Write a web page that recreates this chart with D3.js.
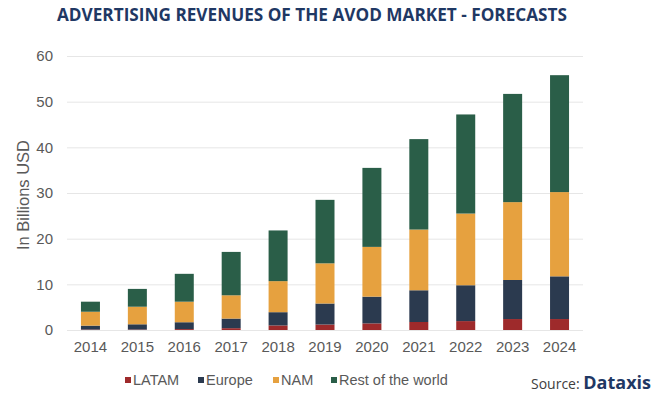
<!DOCTYPE html>
<html>
<head>
<meta charset="utf-8">
<script src="https://cdn.jsdelivr.net/npm/d3@7"></script>
<style>
  body { margin: 0; background: #fff; }
  text { font-family: "Liberation Sans", Arial, sans-serif; }
</style>
</head>
<body>
<div id="chart"></div>
<script>
// ---------------------------//
//            DATA            //
// ---------------------------//
const years = ["2014", "2015", "2016", "2017", "2018", "2019", "2020", "2021", "2022", "2023", "2024"];
const seriesNames = ["LATAM", "Europe", "NAM", "Rest of the world"];
const latam  = [0.1, 0.1, 0.2, 0.4, 1.0, 1.2, 1.45, 1.75, 1.95, 2.4, 2.4];
const europe = [0.85, 1.15, 1.5, 2.1, 2.9, 4.6, 5.85, 6.95, 7.85, 8.55, 9.35];
const nam    = [3.05, 3.85, 4.5, 5.1, 6.8, 8.8, 10.9, 13.3, 15.7, 17.05, 18.45];
const rest   = [2.2, 3.9, 6.1, 9.5, 11.1, 13.9, 17.3, 19.8, 21.7, 23.7, 25.6];
const yTicks = [0, 10, 20, 30, 40, 50, 60];

const colors = ["#9E2A2B", "#2B3A4F", "#E6A13F", "#2A5E48"];

// ---------------------------//
//       SET  CANVAS          //
// ---------------------------//
const W = 659, H = 398;
const margin = {top: 56, right: 76, bottom: 68, left: 67};
const width = W - margin.left - margin.right,
      height = H - margin.top - margin.bottom;

const svg = d3.select("#chart")
    .append("svg")
    .attr("width", W)
    .attr("height", H);

const g = svg.append("g")
    .attr("transform", `translate(${margin.left},${margin.top})`);

// table for the stack
const table = years.map((y, i) => ({
    year: y,
    "LATAM": latam[i],
    "Europe": europe[i],
    "NAM": nam[i],
    "Rest of the world": rest[i]
}));
const stacked = d3.stack().keys(seriesNames)(table);

// ---------------------------//
//       AXIS  AND SCALE      //
// ---------------------------//
const x = d3.scaleBand()
    .domain(years)
    .range([0, width])
    .paddingInner(0.595)
    .paddingOuter(0.2975);

const y = d3.scaleLinear()
    .domain([0, 60])
    .range([height, 0]);

// gridlines
g.append("g")
    .selectAll("line")
    .data(yTicks)
    .join("line")
    .attr("x1", 0)
    .attr("x2", width)
    .attr("y1", d => y(d) + 0.5)
    .attr("y2", d => y(d) + 0.5)
    .attr("stroke", "#e6e6e6")
    .attr("stroke-width", 1);

// Y axis labels
g.append("g")
    .call(d3.axisLeft(y).tickValues(yTicks).tickSize(0).tickPadding(14))
    .call(a => a.select(".domain").remove())
    .selectAll("text")
    .style("font-size", "15px")
    .style("font-family", "'Liberation Sans', Arial, sans-serif")
    .attr("fill", "#595959");

// X axis labels
g.append("g")
    .attr("transform", `translate(0,${height})`)
    .call(d3.axisBottom(x).tickSize(0).tickPadding(11))
    .call(a => a.select(".domain").remove())
    .selectAll("text")
    .style("font-size", "15px")
    .style("font-family", "'Liberation Sans', Arial, sans-serif")
    .attr("fill", "#595959");

// Y axis title
svg.append("text")
    .attr("transform", `translate(29,${margin.top + 139}) rotate(-90)`)
    .attr("text-anchor", "middle")
    .style("font-size", "16.5px")
    .attr("fill", "#595959")
    .text("In Billions USD");

// ---------------------------//
//           BARS             //
// ---------------------------//
g.selectAll(".series")
    .data(stacked)
    .join("g")
    .attr("class", "series")
    .attr("fill", (d, i) => colors[i])
    .selectAll("rect")
    .data(d => d)
    .join("rect")
    .attr("x", d => x(d.data.year))
    .attr("y", d => y(d[1]))
    .attr("width", x.bandwidth())
    .attr("height", d => y(d[0]) - y(d[1]));

// ---------------------------//
//      TITLE AND LEGEND      //
// ---------------------------//
svg.append("text")
    .attr("x", 312)
    .attr("y", 21)
    .attr("text-anchor", "middle")
    .style("font-family", "'Open Sans', 'Noto Sans', sans-serif")
    .style("font-size", "17.2px")
    .style("font-weight", "bold")
    .attr("fill", "#1F3864")
    .text("ADVERTISING REVENUES OF THE AVOD MARKET - FORECASTS");

const legendX = [125, 198, 273, 331];
const legend = svg.append("g")
    .selectAll("g")
    .data(seriesNames)
    .join("g")
    .attr("transform", (d, i) => `translate(${legendX[i]},380)`);

legend.append("rect")
    .attr("x", 0)
    .attr("y", -3)
    .attr("width", 6)
    .attr("height", 6)
    .attr("fill", (d, i) => colors[i]);

legend.append("text")
    .attr("x", 8)
    .attr("y", 5)
    .style("font-size", "14.5px")
    .attr("fill", "#595959")
    .text(d => d);

// Source
const source = svg.append("text")
    .attr("x", 651)
    .attr("y", 389)
    .attr("text-anchor", "end");
source.append("tspan")
    .style("font-family", "'Open Sans', 'Noto Sans', sans-serif")
    .style("font-size", "14px")
    .attr("fill", "#404040")
    .text("Source: ");
source.append("tspan")
    .style("font-family", "'Open Sans', 'Noto Sans', sans-serif")
    .style("font-size", "18px")
    .style("font-weight", "bold")
    .attr("fill", "#1F3864")
    .text("Dataxis");
</script>
</body>
</html>
